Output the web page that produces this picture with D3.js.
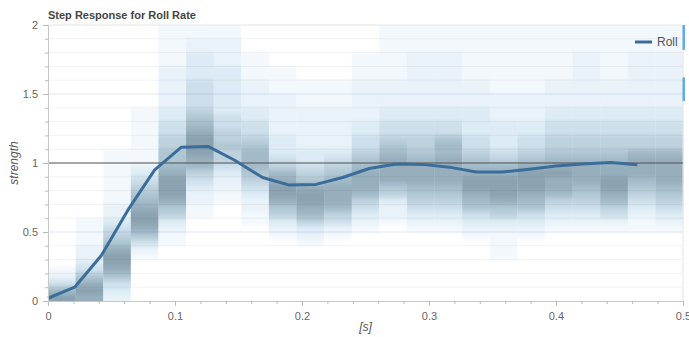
<!DOCTYPE html>
<html>
<head>
<meta charset="utf-8">
<script src="https://cdn.jsdelivr.net/npm/d3@7"></script>
<style>
  body { margin: 0; background: #fff; }
  svg { font-family: "Liberation Sans", Arial, sans-serif; }
</style>
</head>
<body>
<div id="chart"></div>
<script>
// step response line (Roll)
const lineTimes = [0, 0.021, 0.042, 0.063, 0.084, 0.105, 0.126, 0.147, 0.169, 0.190, 0.211, 0.232,
  0.253, 0.274, 0.295, 0.316, 0.337, 0.358, 0.379, 0.400, 0.421, 0.443, 0.464];
const rollValues = [0.02, 0.10, 0.33, 0.66, 0.95, 1.115, 1.12, 1.02, 0.895, 0.84, 0.845, 0.895,
  0.96, 0.993, 0.99, 0.97, 0.935, 0.935, 0.955, 0.978, 0.993, 1.003, 0.988];

// histogram heat: one string per time bin, one digit (0-9) per 0.05 strength bin, bottom first
const heatBinWidth = 0.5 / 23;
const heatRowHeight = 0.05;
const heatColumns = [
  '9742100000' + '0000000000' + '0000000000' + '0000000000',
  '8986432211' + '1100000000' + '0000000000' + '0000000000',
  '2346899865' + '4322111111' + '1100000000' + '0000000000',
  '0000001246' + '8998765432' + '1111111100' + '0000000000',
  '0000000011' + '2356899987' + '6655443322' + '2222111111',
  '0000000000' + '0011223457' + '8999876544' + '4433332211',
  '0000000000' + '0000112234' + '5565544333' + '3333222211',
  '0000000000' + '0112234567' + '7765443322' + '2211110000',
  '0000000001' + '2356899875' + '4333222222' + '1111000000',
  '0000000012' + '3578998654' + '3322222211' + '1100000000',
  '0000000001' + '2457888765' + '4322222211' + '1100000000',
  '0000000000' + '1234578887' + '6544332222' + '2211110000',
  '0000000000' + '0122356888' + '8765443322' + '2211111111',
  '0000000000' + '1234567888' + '7655443322' + '2222221111',
  '0000000000' + '1234567888' + '8776443322' + '2222221111',
  '0000000001' + '2346789987' + '6544333322' + '2211111111',
  '0000001111' + '2356899987' + '5433332222' + '1111111111',
  '0000000001' + '2346789998' + '6544332222' + '1111111111',
  '0000000000' + '1234578898' + '7655443322' + '2211111111',
  '0000000000' + '1234567888' + '7655443322' + '2222221111',
  '0000000000' + '1245789988' + '7655443322' + '2211111111',
  '0000000000' + '1123456788' + '8755443322' + '2222221111',
  '0000000000' + '1234567888' + '8755443322' + '2222221111'
];

const xTicks = [0, 0.1, 0.2, 0.3, 0.4, 0.5];
const yTicks = [0, 0.5, 1, 1.5, 2];

const width = 689, height = 337;
const margin = { top: 25, right: 6, bottom: 36, left: 48 };

const svg = d3.select('#chart').append('svg')
  .attr('width', width)
  .attr('height', height);

const x = d3.scaleLinear().domain([0, 0.5]).range([margin.left, width - margin.right]);
const y = d3.scaleLinear().domain([0, 2]).range([height - margin.bottom, margin.top]);

const heatColor = d3.scaleLinear()
  .domain([0, 3, 6, 9])
  .range(['#ffffff', '#dcebf5', '#afc6d3', '#8ba3b1']);

// heat columns drawn as vertical gradients through the bin values
const defs = svg.append('defs');
heatColumns.forEach((col, i) => {
  const vals = col.split('').map(Number);
  const grad = defs.append('linearGradient')
    .attr('id', `heat-${i}`)
    .attr('gradientUnits', 'userSpaceOnUse')
    .attr('x1', 0).attr('x2', 0)
    .attr('y1', y(0)).attr('y2', y(2));
  grad.append('stop').attr('offset', 0).attr('stop-color', heatColor(vals[0]));
  vals.forEach((v, j) => {
    grad.append('stop')
      .attr('offset', ((j + 0.5) * heatRowHeight) / 2)
      .attr('stop-color', heatColor(v));
  });
  grad.append('stop').attr('offset', 1).attr('stop-color', heatColor(vals[vals.length - 1]));
});

svg.append('g')
  .selectAll('rect')
  .data(heatColumns.map((c, i) => i))
  .join('rect')
  .attr('x', i => x(i * heatBinWidth))
  .attr('y', y(2))
  .attr('width', i => x((i + 1) * heatBinWidth) - x(i * heatBinWidth) + 0.3)
  .attr('height', y(0) - y(2))
  .attr('fill', i => `url(#heat-${i})`);

// grid
const grid = svg.append('g');
grid.selectAll('line.minor')
  .data(d3.range(1, 20).map(d => d / 10))
  .join('line')
  .attr('x1', x(0)).attr('x2', x(0.5))
  .attr('y1', d => y(d)).attr('y2', d => y(d))
  .attr('stroke', d => (Math.abs(d - 0.5) < 1e-6 || Math.abs(d - 1.5) < 1e-6) ? 'rgba(90,90,200,0.15)' : 'rgba(0,0,0,0.05)')
  .attr('stroke-width', 1);
grid.append('line')
  .attr('x1', x(0)).attr('x2', x(0.5))
  .attr('y1', y(2)).attr('y2', y(2))
  .attr('stroke', '#e6e6e6');
grid.append('line')
  .attr('x1', x(0.5)).attr('x2', x(0.5))
  .attr('y1', y(2)).attr('y2', y(0))
  .attr('stroke', '#e6e6e6');

// reference line at 1
svg.append('line')
  .attr('x1', x(0)).attr('x2', x(0.5))
  .attr('y1', y(1)).attr('y2', y(1))
  .attr('stroke', '#555')
  .attr('stroke-width', 1.2);

// roll line
svg.append('path')
  .datum(d3.zip(lineTimes, rollValues))
  .attr('fill', 'none')
  .attr('stroke', '#3b6d9b')
  .attr('stroke-width', 3)
  .attr('stroke-linejoin', 'round')
  .attr('d', d3.line().x(d => x(d[0])).y(d => y(d[1])));

// axes
svg.append('g')
  .attr('transform', `translate(0,${y(0)})`)
  .call(d3.axisBottom(x).tickValues(xTicks).tickFormat(d3.format('')).tickSize(5).tickPadding(6));
svg.append('g')
  .attr('transform', `translate(0,${y(0)})`)
  .call(d3.axisBottom(x).tickValues(d3.range(0, 0.5, 0.02)).tickFormat('').tickSize(3))
  .call(g => g.select('.domain').remove());

svg.append('g')
  .attr('transform', `translate(${x(0)},0)`)
  .call(d3.axisLeft(y).tickValues(yTicks).tickFormat(d3.format('')).tickSize(5).tickPadding(5));
svg.append('g')
  .attr('transform', `translate(${x(0)},0)`)
  .call(d3.axisLeft(y).tickValues(d3.range(0, 2, 0.1)).tickFormat('').tickSize(3))
  .call(g => g.select('.domain').remove());

svg.selectAll('.domain').attr('stroke', '#c8c8c8');
svg.selectAll('.tick line').attr('stroke', '#bbb');
svg.selectAll('.tick text').attr('fill', '#666').attr('font-size', 11);

// labels
svg.append('text')
  .attr('x', margin.left)
  .attr('y', 19)
  .attr('font-size', 11)
  .attr('font-weight', 'bold')
  .attr('fill', '#444')
  .text('Step Response for Roll Rate');

svg.append('text')
  .attr('x', (x(0) + x(0.5)) / 2)
  .attr('y', 331)
  .attr('text-anchor', 'middle')
  .attr('font-size', 12)
  .attr('font-style', 'italic')
  .attr('fill', '#555')
  .text('[s]');

svg.append('text')
  .attr('transform', `translate(18,${(y(0) + y(2)) / 2}) rotate(-90)`)
  .attr('text-anchor', 'middle')
  .attr('font-size', 12)
  .attr('font-style', 'italic')
  .attr('fill', '#555')
  .text('strength');

// legend
const legend = svg.append('g').attr('transform', `translate(635,42)`);
legend.append('line')
  .attr('x1', 0).attr('x2', 17)
  .attr('stroke', '#3b6d9b').attr('stroke-width', 3);
legend.append('text')
  .attr('x', 22).attr('y', 4)
  .attr('font-size', 12)
  .attr('fill', '#555')
  .text('Roll');

// scroll marks at right edge
svg.append('g')
  .selectAll('rect')
  .data([[2, 1.82], [1.62, 1.45]])
  .join('rect')
  .attr('x', x(0.5) - 0.5)
  .attr('y', d => y(d[0]))
  .attr('width', 2.5)
  .attr('height', d => y(d[1]) - y(d[0]))
  .attr('fill', '#62ace0');
</script>
</body>
</html>
